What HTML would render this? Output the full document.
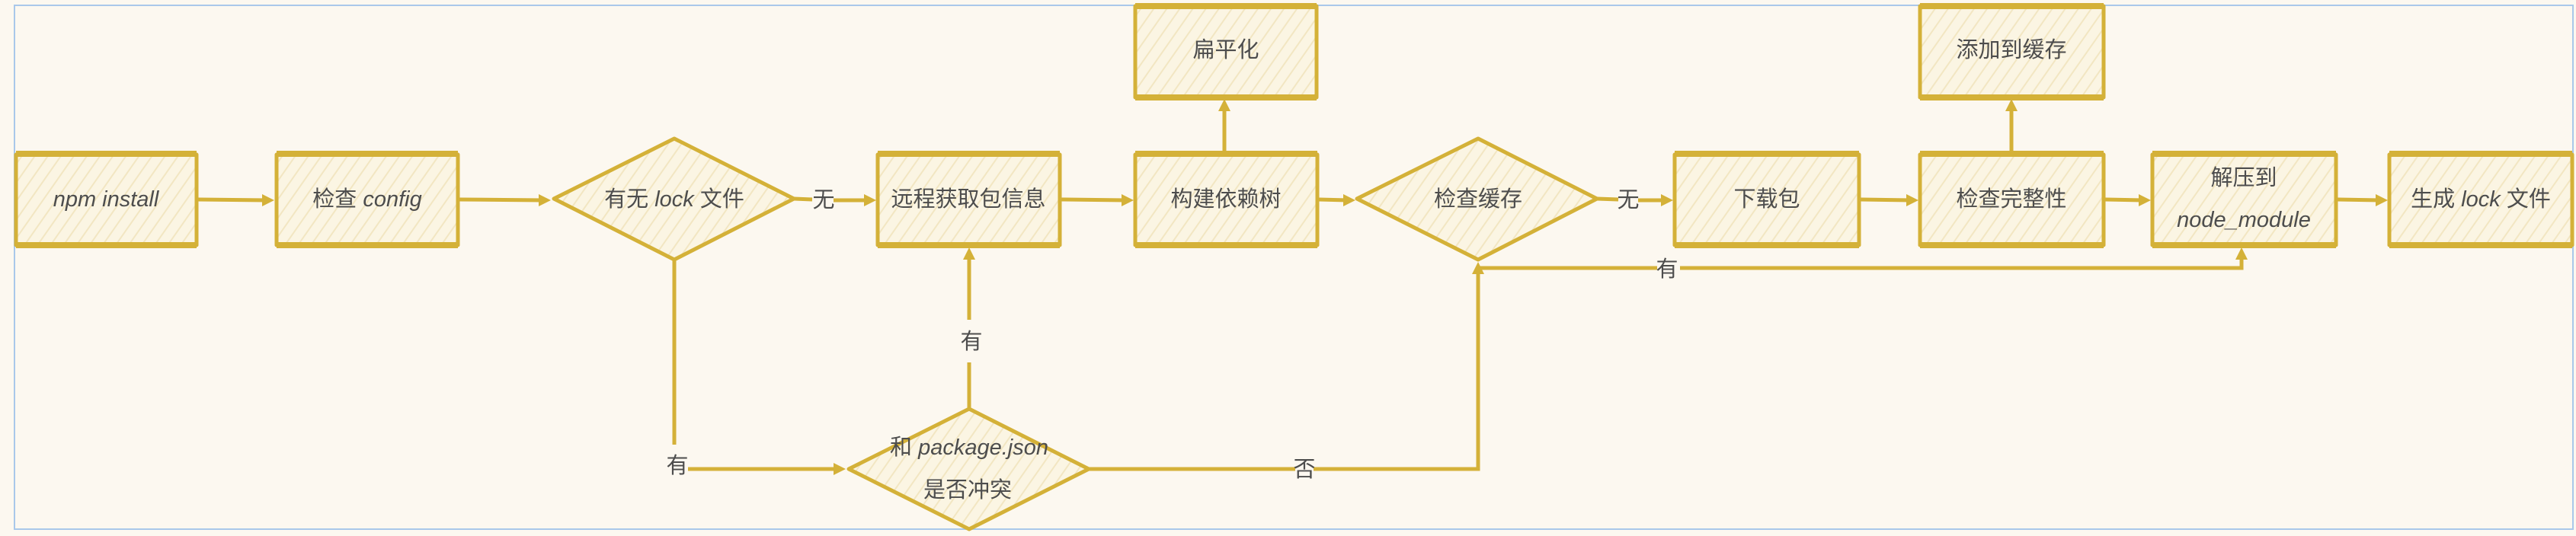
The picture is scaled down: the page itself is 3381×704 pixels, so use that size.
<!DOCTYPE html>
<html><head><meta charset="utf-8"><style>
html,body{margin:0;padding:0;background:#fcf8f0;}
svg{display:block}
text{font-family:"Liberation Sans","Noto Sans CJK SC",sans-serif;fill:#4d4d4d;font-size:29px;text-anchor:middle;dominant-baseline:central}
.l{font-style:italic}
</style></head><body>
<svg width="3381" height="704" viewBox="0 0 3381 704" xmlns="http://www.w3.org/2000/svg">
<defs>
<pattern id="h" patternUnits="userSpaceOnUse" width="14" height="14" patternTransform="rotate(35)">
<rect width="14" height="14" fill="#fbf5e3"/><line x1="0" y1="0" x2="0" y2="14" stroke="#f2e6c2" stroke-width="4"/>
</pattern>
</defs>
<rect x="0" y="0" width="3381" height="704" fill="#fcf8f0"/>
<rect x="19" y="7" width="3358" height="688" fill="none" stroke="#a9c8ea" stroke-width="2"/>
<g fill="url(#h)" stroke="#d4b138" stroke-width="5" stroke-linejoin="round">
<rect x="21" y="203" width="237" height="119"/>
<rect x="363" y="203" width="238" height="119"/>
<rect x="1152" y="203" width="239" height="119"/>
<rect x="1490" y="203" width="239" height="119"/>
<rect x="1490" y="8" width="238" height="120"/>
<rect x="2198" y="203" width="242" height="119"/>
<rect x="2520" y="203" width="241" height="119"/>
<rect x="2520" y="8" width="241" height="120"/>
<rect x="2825" y="203" width="241" height="119"/>
<rect x="3136" y="203" width="240" height="119"/>
<polygon points="727,261 885,182 1042,261 885,341"/>
<polygon points="1781,261 1940,182 2096,261 1940,341"/>
<polygon points="1114,616 1272,537 1429,616 1272,695"/>
</g>
<g stroke="#d4b138" stroke-width="8" fill="none">
<line x1="21" y1="202" x2="258" y2="202"/><line x1="21" y1="322" x2="258" y2="322"/>
<line x1="363" y1="202" x2="601" y2="202"/><line x1="363" y1="322" x2="601" y2="322"/>
<line x1="1152" y1="202" x2="1391" y2="202"/><line x1="1152" y1="322" x2="1391" y2="322"/>
<line x1="1490" y1="202" x2="1729" y2="202"/><line x1="1490" y1="322" x2="1729" y2="322"/>
<line x1="1490" y1="8" x2="1728" y2="8"/><line x1="1490" y1="128" x2="1728" y2="128"/>
<line x1="2198" y1="202" x2="2440" y2="202"/><line x1="2198" y1="322" x2="2440" y2="322"/>
<line x1="2520" y1="202" x2="2761" y2="202"/><line x1="2520" y1="322" x2="2761" y2="322"/>
<line x1="2520" y1="8" x2="2761" y2="8"/><line x1="2520" y1="128" x2="2761" y2="128"/>
<line x1="2825" y1="202" x2="3066" y2="202"/><line x1="2825" y1="322" x2="3066" y2="322"/>
<line x1="3136" y1="202" x2="3376" y2="202"/><line x1="3136" y1="322" x2="3376" y2="322"/>
</g>
<g stroke="#d4b138" stroke-width="5" fill="none">
<line x1="260" y1="262" x2="350" y2="263"/>
<line x1="603" y1="262" x2="713" y2="263"/>
<line x1="1094" y1="263" x2="1140" y2="263"/>
<line x1="1393" y1="262" x2="1478" y2="263"/>
<line x1="1731" y1="262" x2="1769" y2="263"/>
<line x1="2150" y1="263" x2="2186" y2="263"/>
<line x1="2442" y1="262" x2="2508" y2="263"/>
<line x1="2763" y1="262" x2="2813" y2="263"/>
<line x1="3068" y1="262" x2="3124" y2="263"/>
<line x1="1607" y1="198" x2="1607" y2="140"/>
<line x1="2640" y1="198" x2="2640" y2="140"/>
<line x1="903" y1="616" x2="1100" y2="616"/>
<line x1="1272" y1="420" x2="1272" y2="335"/>
<polyline points="1429,616 1700,616"/>
<polyline points="1724,616 1940,616 1940,354"/>
<polyline points="1940,352 2175,352"/>
<polyline points="2205,352 2942,352 2942,335"/>
<line x1="1042" y1="261" x2="1066" y2="262"/>
<line x1="2096" y1="261" x2="2124" y2="262"/>
<line x1="885" y1="341" x2="885" y2="584"/>
<line x1="1272" y1="537" x2="1272" y2="476"/>
</g>
<g fill="#d4b138">
<polygon points="344,255 360,263 344,271"/>
<polygon points="707,255 723,263 707,271"/>
<polygon points="1134,255 1150,263 1134,271"/>
<polygon points="1472,255 1488,263 1472,271"/>
<polygon points="1763,255 1779,263 1763,271"/>
<polygon points="2180,255 2196,263 2180,271"/>
<polygon points="2502,255 2518,263 2502,271"/>
<polygon points="2807,255 2823,263 2807,271"/>
<polygon points="3118,255 3134,263 3118,271"/>
<polygon points="1094,608 1110,616 1094,624"/>
<polygon points="1599,146 1607,130 1615,146"/>
<polygon points="2632,146 2640,130 2648,146"/>
<polygon points="1264,341 1272,325 1280,341"/>
<polygon points="1932,360 1940,344 1948,360"/>
<polygon points="2934,341 2942,325 2950,341"/>
</g>
<text class="l" x="139" y="262">npm install</text>
<text x="482" y="262">检查 <tspan class="l">config</tspan></text>
<text x="885" y="262">有无 <tspan class="l">lock</tspan> 文件</text>
<text x="1081" y="263">无</text>
<text x="1271" y="262">远程获取包信息</text>
<text x="1609" y="262">构建依赖树</text>
<text x="1609" y="66">扁平化</text>
<text x="1940" y="262">检查缓存</text>
<text x="2137" y="263">无</text>
<text x="2319" y="262">下载包</text>
<text x="2640" y="262">检查完整性</text>
<text x="2640" y="66">添加到缓存</text>
<text x="2945" y="234">解压到</text>
<text class="l" x="2945" y="289">node_module</text>
<text x="3256" y="262">生成 <tspan class="l">lock</tspan> 文件</text>
<text x="889" y="612">有</text>
<text x="1275" y="449">有</text>
<text x="1712" y="617">否</text>
<text x="2188" y="354">有</text>
<text x="1272" y="588">和 <tspan class="l">package.json</tspan></text>
<text x="1270" y="644">是否冲突</text>
</svg>
</body></html>
